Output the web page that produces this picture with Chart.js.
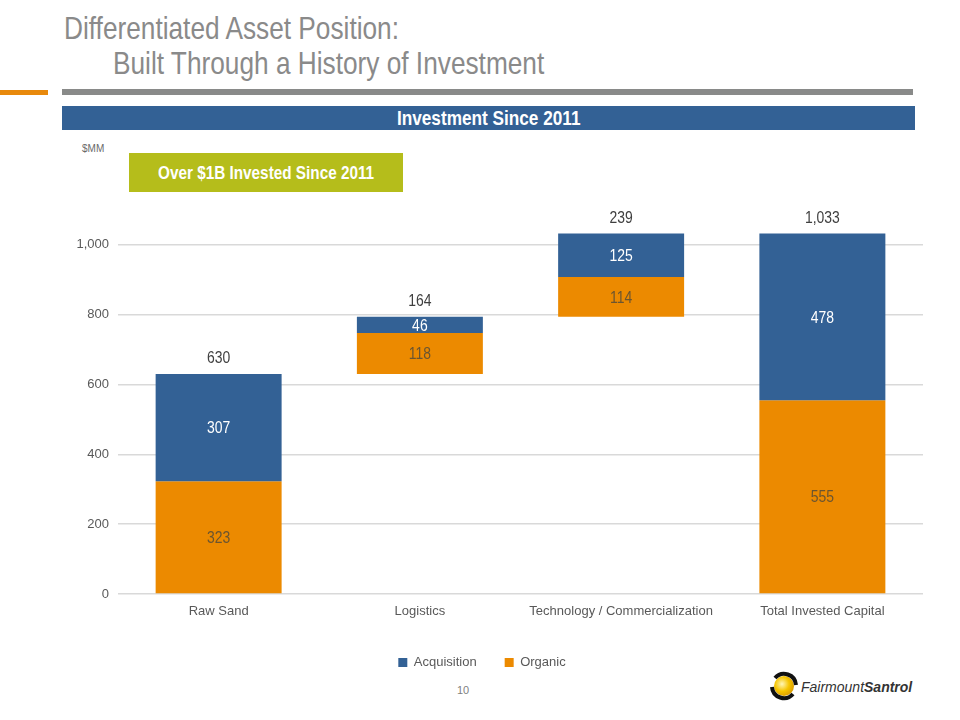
<!DOCTYPE html>
<html>
<head>
<meta charset="utf-8">
<script src="https://cdn.jsdelivr.net/npm/chart.js@4.4.1/dist/chart.umd.min.js"></script>
<style>
  html, body { margin: 0; padding: 0; background: #fff; }
  body { width: 960px; height: 720px; position: relative; overflow: hidden;
         font-family: "Liberation Sans", Arial, sans-serif; }
  .abs { position: absolute; }
  .narrow { display: inline-block; transform: scaleX(0.82); }
  #t1 { left: 64px; top: 10px; font-size: 32px; color: #8a8a8a; white-space: nowrap; transform-origin: left; }
  #t2 { left: 113px; top: 45px; font-size: 32px; color: #8a8a8a; white-space: nowrap; transform-origin: left; }
  #orangeLine { left: 0; top: 90px; width: 48px; height: 5px; background: #e8890c; }
  #grayLine { left: 62px; top: 89px; width: 851px; height: 6px; background: #898a89; }
  #band { left: 62px; top: 106px; width: 853px; height: 24px; background: #336195;
          color: #fff; font-weight: bold; font-size: 20px; text-align: center; line-height: 25px; }
  #mm { left: 82px; top: 143px; font-size: 10px; color: #6a6a6a; }
  #green { left: 129px; top: 153px; width: 274px; height: 39px; background: #b5bd1b;
           color: #fff; font-weight: bold; font-size: 18px; text-align: center; line-height: 40px; }
  #page { left: 457px; top: 684px; font-size: 11px; color: #7f7f7f; }
  #logo { left: 770px; top: 671px; }
  #chartWrap { left: 0; top: 0; width: 960px; height: 720px; }
</style>
</head>
<body>
<div id="t1" class="abs narrow">Differentiated Asset Position:</div>
<div id="t2" class="abs narrow">Built Through a History of Investment</div>
<div id="orangeLine" class="abs"></div>
<div id="grayLine" class="abs"></div>
<div id="band" class="abs"><span class="narrow" style="transform: scaleX(0.86)">Investment Since 2011</span></div>
<div id="mm" class="abs">$MM</div>
<div id="green" class="abs"><span class="narrow" style="transform: scaleX(0.85)">Over $1B Invested Since 2011</span></div>
<div id="page" class="abs">10</div>
<svg id="logo" class="abs" width="150" height="30" viewBox="0 0 150 30">
  <defs>
    <radialGradient id="g" cx="40%" cy="40%" r="65%">
      <stop offset="0%" stop-color="#fff6b8"/>
      <stop offset="55%" stop-color="#f6c500"/>
      <stop offset="100%" stop-color="#d99a00"/>
    </radialGradient>
  </defs>
  <circle cx="14" cy="15" r="10" fill="url(#g)"/>
  <path d="M 5 7 A 12 12 0 0 1 26 14" stroke="#111" stroke-width="4" fill="none"/>
  <path d="M 23 23 A 12 12 0 0 1 2 16" stroke="#111" stroke-width="4" fill="none"/>
  <text x="31" y="21" font-family="Liberation Sans, Arial, sans-serif" font-size="14" font-style="italic" fill="#333">Fairmount<tspan font-weight="bold">Santrol</tspan></text>
</svg>
<div id="chartWrap" class="abs"><canvas id="myChart" width="960" height="720"></canvas></div>

<script>
const categories = ['Raw Sand', 'Logistics', 'Technology / Commercialization', 'Total Invested Capital'];
const organic = [323, 118, 114, 555];
const acquisition = [307, 46, 125, 478];
const isTotal = [false, false, false, true];
const yTicks = [0, 200, 400, 600, 800, 1000];

const FONT = '"Liberation Sans", Arial, sans-serif';

// bases of the waterfall steps
const bases = [];
let running = 0;
categories.forEach((c, i) => {
  bases.push(isTotal[i] ? 0 : running);
  if (!isTotal[i]) running += organic[i] + acquisition[i];
});
const totals = categories.map((c, i) => organic[i] + acquisition[i]);
const organicRanges = categories.map((c, i) => [bases[i], bases[i] + organic[i]]);
const acqRanges = categories.map((c, i) => [bases[i] + organic[i], bases[i] + organic[i] + acquisition[i]]);

const fmt = v => v.toLocaleString('en-US');

// narrow looking text: squeeze horizontally
function narrowText(ctx, txt, x, y) {
  ctx.save();
  ctx.translate(x, y);
  ctx.scale(0.82, 1);
  ctx.fillText(txt, 0, 0);
  ctx.restore();
}

const labelPlugin = {
  id: 'labels',
  afterDatasetsDraw(chart) {
    const ctx = chart.ctx;
    ctx.save();
    ctx.textAlign = 'center';
    ctx.textBaseline = 'middle';
    ctx.font = '17px ' + FONT;
    const values = [acquisition, organic];
    chart.data.datasets.forEach((ds, di) => {
      const meta = chart.getDatasetMeta(di);
      meta.data.forEach((bar, i) => {
        ctx.fillStyle = di === 0 ? '#ffffff' : '#6b5530';
        narrowText(ctx, fmt(values[di][i]), bar.x, (bar.y + bar.base) / 2 + 1);
      });
    });
    const top = chart.getDatasetMeta(0);
    ctx.fillStyle = '#404040';
    ctx.textBaseline = 'bottom';
    top.data.forEach((bar, i) => {
      narrowText(ctx, fmt(totals[i]), bar.x, Math.min(bar.y, bar.base) - 7);
    });
    ctx.restore();
  }
};

const ctx = document.getElementById('myChart').getContext('2d');
const myChart = new Chart(ctx, {
  type: 'bar',
  data: {
    labels: categories,
    datasets: [
      { label: 'Acquisition', data: acqRanges, backgroundColor: '#336195' },
      { label: 'Organic', data: organicRanges, backgroundColor: '#ec8a00' }
    ]
  },
  options: {
    responsive: false,
    animation: false,
    layout: { padding: { left: 41, right: 37, top: 210, bottom: 41 } },
    datasets: { bar: { barPercentage: 1, categoryPercentage: 0.626 } },
    plugins: {
      legend: {
        position: 'bottom',
        labels: {
          boxWidth: 9, boxHeight: 9, padding: 28,
          color: '#595959',
          font: { family: FONT, size: 13 }
        }
      },
      tooltip: { enabled: false }
    },
    scales: {
      x: {
        stacked: true,
        grid: { display: false, drawTicks: false },
        border: { display: false },
        ticks: { color: '#595959', padding: 10, maxRotation: 0, autoSkip: false,
                 font: { family: FONT, size: 13 } },
        afterFit(scale) { scale.height = 34; }
      },
      y: {
        stacked: false,
        min: 0,
        max: 1100,
        afterBuildTicks(scale) { scale.ticks = yTicks.map(v => ({ value: v })); },
        ticks: {
          color: '#595959', padding: 9,
          font: { family: FONT, size: 13 },
          callback: v => fmt(v)
        },
        grid: { color: '#d9d9d9', lineWidth: 1.5, drawTicks: false },
        border: { display: false },
        afterFit(scale) { scale.width = 77; }
      }
    }
  },
  plugins: [labelPlugin]
});
</script>
</body>
</html>
